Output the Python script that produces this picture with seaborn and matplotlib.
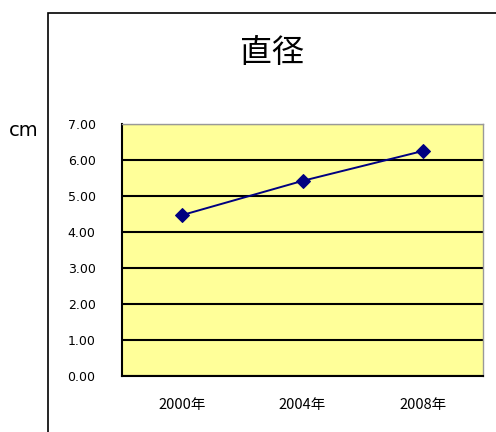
import matplotlib
matplotlib.use("Agg")
import matplotlib.pyplot as plt
import seaborn as sns
import pandas as pd
from matplotlib.patches import Rectangle

# data
years = ["2000年", "2004年", "2008年"]
diameter = [4.47, 5.42, 6.25]
y_ticks = [0, 1, 2, 3, 4, 5, 6, 7]

sns.set_style("white")
plt.rcParams['font.family'] = ['Noto Sans CJK JP', 'DejaVu Sans']
plt.rcParams['text.color'] = 'black'
plt.rcParams['xtick.color'] = 'black'
plt.rcParams['ytick.color'] = 'black'

df = pd.DataFrame({"year": years, "cm": diameter})

fig = plt.figure(figsize=(4.96, 4.32), dpi=100)
# outer chart frame (cut off on right and bottom)
fig.patches.append(Rectangle((48 / 496, -0.1), 1.0, 1 - 13 / 432 + 0.1,
                             transform=fig.transFigure, fill=False,
                             edgecolor='black', linewidth=1.2))

ax = fig.add_axes([122 / 496, 1 - 376 / 432, 361 / 496, 252 / 432])
ax.set_facecolor('#FFFF99')

sns.lineplot(data=df, x="year", y="cm", ax=ax, color='#000080',
             marker='D', markersize=7, markeredgecolor='#000080', linewidth=1.4)

ax.set_xlim(-0.5, 2.5)
ax.set_ylim(0, 7)
ax.set_yticks(y_ticks)
ax.set_yticklabels([f"{v:.2f}" for v in y_ticks], fontsize=9, family='DejaVu Sans')
ax.yaxis.grid(True, color='black', linewidth=1.5)
ax.set_axisbelow(True)
ax.set_xticks(range(len(years)))
ax.set_xticklabels(years, fontsize=10.5)
ax.tick_params(axis='x', length=0, pad=16)
ax.tick_params(axis='y', length=0, pad=19)
ax.set_xticks([0.5, 1.5], minor=True)
ax.tick_params(axis='x', which='minor', direction='in', length=4, color='black')
ax.set_xlabel("")
ax.set_ylabel("")

for s in ['left', 'bottom']:
    ax.spines[s].set_color('black')
    ax.spines[s].set_linewidth(1.5)
for s in ['top', 'right']:
    ax.spines[s].set_color('#999999')
    ax.spines[s].set_linewidth(1.0)

fig.text(272 / 496, 1 - 53 / 432, "直径", ha='center', va='center', fontsize=23)
fig.text(24 / 496, 1 - 130 / 432, "cm", ha='center', va='center', fontsize=14,
         family='DejaVu Sans')

fig.savefig("out.png", dpi=100)
